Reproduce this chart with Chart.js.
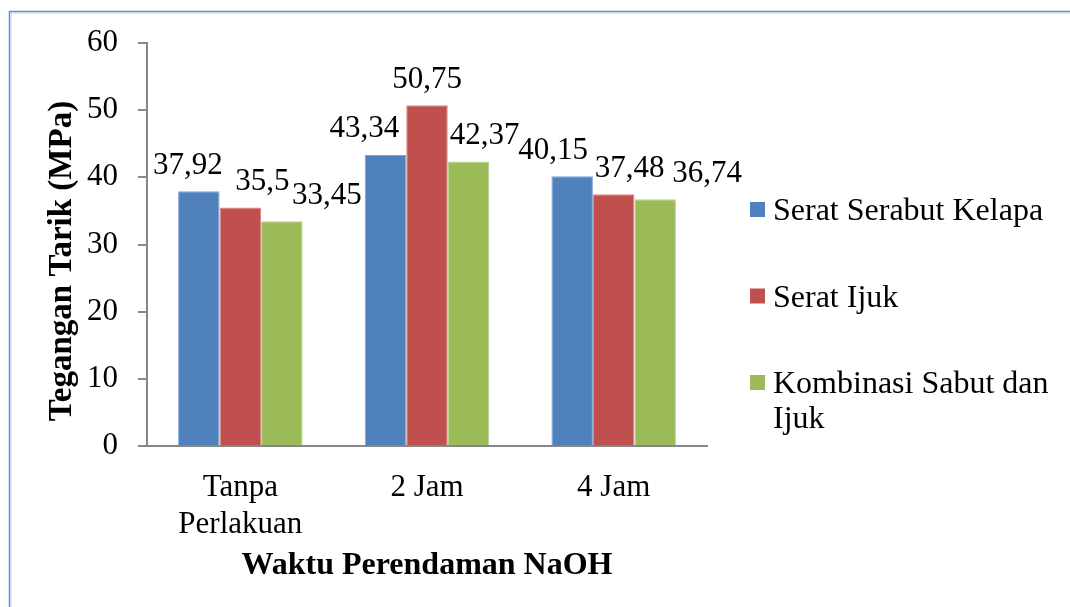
<!DOCTYPE html>
<html>
<head>
<meta charset="utf-8">
<script src="https://cdn.jsdelivr.net/npm/chart.js@4"></script>
<style>
  html, body { margin: 0; padding: 0; background: #fff; }
  #c { display: block; }
</style>
</head>
<body>
<canvas id="c" width="1070" height="607"></canvas>
<script>
// ---- data ----
const categories = [['Tanpa', 'Perlakuan'], '2 Jam', '4 Jam'];
const seriesNames = ['Serat Serabut Kelapa', 'Serat Ijuk', 'Kombinasi Sabut dan Ijuk'];
const serabutKelapa = [37.92, 43.34, 40.15];
const seratIjuk = [35.5, 50.75, 37.48];
const kombinasiSabutIjuk = [33.45, 42.37, 36.74];
const yTitle = 'Tegangan Tarik (MPa)';
const xTitle = 'Waktu Perendaman NaOH';

// ---- style ----
const colors = ['#4F81BD', '#C0504D', '#9BBB59'];
const edgeColors = ['#7FA3D2', '#D68583', '#B9D08C'];
const labelNudge = [[-11, -21, -19], [22, 0, 16], [45, 16, 52]];
const FONT = '"Liberation Serif", "Times New Roman", serif';

const frame = {
  id: 'frame',
  beforeDraw(chart) {
    const ctx = chart.ctx;
    ctx.save();
    ctx.fillStyle = '#fff';
    ctx.fillRect(0, 0, chart.width, chart.height);
    ctx.strokeStyle = '#5F8ECF';
    ctx.lineWidth = 1.5;
    ctx.beginPath();
    ctx.moveTo(9.5, chart.height);
    ctx.lineTo(9.5, 11.5);
    ctx.lineTo(chart.width, 11.5);
    ctx.stroke();
    ctx.strokeStyle = '#BCD1EE';
    ctx.lineWidth = 1;
    ctx.beginPath();
    ctx.moveTo(11, chart.height);
    ctx.lineTo(11, 13);
    ctx.lineTo(chart.width, 13);
    ctx.stroke();
    ctx.restore();
  }
};

const extras = {
  id: 'extras',
  afterDraw(chart) {
    const ctx = chart.ctx;
    ctx.save();
    // data labels
    ctx.fillStyle = '#000';
    ctx.font = '31px ' + FONT;
    ctx.textAlign = 'center';
    ctx.textBaseline = 'alphabetic';
    chart.data.datasets.forEach((ds, di) => {
      const meta = chart.getDatasetMeta(di);
      meta.data.forEach((bar, i) => {
        const txt = String(ds.data[i]).replace('.', ',');
        ctx.fillText(txt, bar.x + labelNudge[di][i], bar.y - 17.5);
      });
    });
    // y axis title
    ctx.save();
    ctx.font = 'bold 33px ' + FONT;
    ctx.translate(71, 261);
    ctx.rotate(-Math.PI / 2);
    ctx.textAlign = 'center';
    ctx.textBaseline = 'alphabetic';
    ctx.fillText(yTitle, 0, 0);
    ctx.restore();
    // legend
    ctx.font = '32px ' + FONT;
    ctx.textAlign = 'left';
    ctx.textBaseline = 'alphabetic';
    const textX = 773, maxW = 290;
    let baseline = 220;
    chart.data.datasets.forEach((ds, di) => {
      ctx.fillStyle = ds.backgroundColor;
      ctx.fillRect(750, baseline - 18, 15, 15);
      ctx.fillStyle = '#000';
      const words = ds.label.split(' ');
      const lines = [];
      let cur = '';
      words.forEach(w => {
        const t = cur ? cur + ' ' + w : w;
        if (ctx.measureText(t).width > maxW && cur) { lines.push(cur); cur = w; }
        else cur = t;
      });
      lines.push(cur);
      lines.forEach((ln, k) => ctx.fillText(ln, textX, baseline + k * 35));
      baseline += 86.5;
    });
    ctx.restore();
  }
};

const datasets = [serabutKelapa, seratIjuk, kombinasiSabutIjuk].map((vals, i) => ({
  label: seriesNames[i],
  data: vals,
  backgroundColor: colors[i],
  borderColor: edgeColors[i],
  borderWidth: 1,
  categoryPercentage: 0.667,
  barPercentage: 1.0
}));

new Chart(document.getElementById('c'), {
  type: 'bar',
  data: { labels: categories, datasets },
  options: {
    responsive: false,
    animation: false,
    devicePixelRatio: 1,
    layout: { padding: { top: 43, right: 363, bottom: 0, left: 0 } },
    plugins: { legend: { display: false }, tooltip: { enabled: false } },
    scales: {
      x: {
        grid: { display: false },
        border: { display: true, color: '#878787', width: 2 },
        ticks: { color: '#000', font: { family: FONT, size: 31, lineHeight: 1.2 }, padding: 15, maxRotation: 0, autoSkip: false },
        title: { display: true, text: xTitle, color: '#000', font: { family: FONT, size: 32, weight: 'bold', lineHeight: 1.2 }, padding: { top: 0, bottom: 22 } },
        afterFit(scale) { scale.height = 161; }
      },
      y: {
        min: 0, max: 60,
        grid: { drawOnChartArea: false, drawTicks: true, tickLength: 9, color: '#878787', lineWidth: 2 },
        border: { display: true, color: '#878787', width: 2 },
        ticks: { stepSize: 10, color: '#000', font: { family: FONT, size: 31 }, padding: 20 },
        afterFit(scale) { scale.width = 147; }
      }
    }
  },
  plugins: [frame, extras]
});
</script>
</body>
</html>
